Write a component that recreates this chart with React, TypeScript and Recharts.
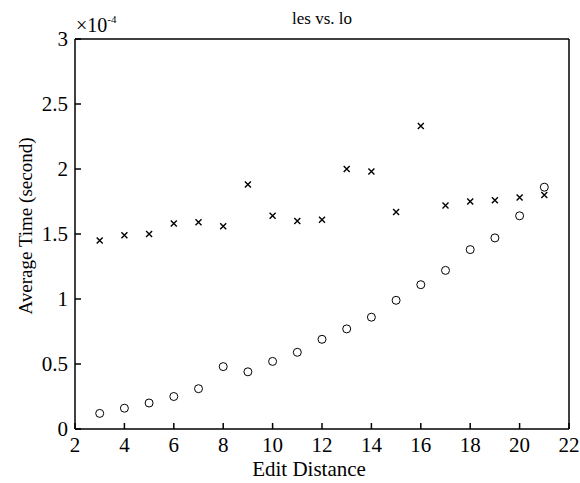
import React from 'react';
import { ScatterChart, Scatter, XAxis, YAxis } from 'recharts';

const distances = [3, 4, 5, 6, 7, 8, 9, 10, 11, 12, 13, 14, 15, 16, 17, 18, 19, 20, 21];
const lesTimes = [1.45, 1.49, 1.5, 1.58, 1.59, 1.56, 1.88, 1.64, 1.6, 1.61, 2.0, 1.98, 1.67, 2.33, 1.72, 1.75, 1.76, 1.78, 1.8];
const loTimes = [0.12, 0.16, 0.2, 0.25, 0.31, 0.48, 0.44, 0.52, 0.59, 0.69, 0.77, 0.86, 0.99, 1.11, 1.22, 1.38, 1.47, 1.64, 1.86];
const xTicks = [2, 4, 6, 8, 10, 12, 14, 16, 18, 20, 22];
const yTicks = [0, 0.5, 1, 1.5, 2, 2.5, 3];

const lesData = distances.map((d, i) => ({ x: d, y: lesTimes[i] }));
const loData = distances.map((d, i) => ({ x: d, y: loTimes[i] }));

const FONT = "'Liberation Serif', 'Times New Roman', Times, serif";
const TL = 6;
const txt = (size: number) => ({ fontFamily: FONT, fontSize: size, fill: '#000' });

const BottomTick = (p: any) => (
  <g>
    <line x1={p.x} x2={p.x} y1={p.y} y2={p.y - TL} stroke="#000" strokeWidth={1.5} />
    <text x={p.x} y={p.y + 23} textAnchor="middle" style={txt(21)}>
      {p.payload.value}
    </text>
  </g>
);
const TopTick = (p: any) => (
  <line x1={p.x} x2={p.x} y1={p.y} y2={p.y + TL} stroke="#000" strokeWidth={1.5} />
);
const LeftTick = (p: any) => (
  <g>
    <line x1={p.x} x2={p.x + TL} y1={p.y} y2={p.y} stroke="#000" strokeWidth={1.5} />
    <text x={p.x - 7} y={p.y + 7} textAnchor="end" style={txt(21)}>
      {p.payload.value}
    </text>
  </g>
);
const RightTick = (p: any) => (
  <line x1={p.x} x2={p.x - TL} y1={p.y} y2={p.y} stroke="#000" strokeWidth={1.5} />
);

const Cross = (p: any) => (
  <path
    d={`M${p.cx - 3},${p.cy - 3}L${p.cx + 3},${p.cy + 3}M${p.cx - 3},${p.cy + 3}L${p.cx + 3},${p.cy - 3}`}
    stroke="#000"
    strokeWidth={1.4}
    fill="none"
  />
);
const Ring = (p: any) => <circle cx={p.cx} cy={p.cy} r={4} stroke="#000" strokeWidth={1} fill="none" />;

const axisLine = { stroke: '#000', strokeWidth: 1.5 };

export default function App() {
  return (
    <div style={{ position: 'absolute', left: 0, top: 0, background: '#fff' }}>
      <ScatterChart width={580} height={483} margin={{ top: 30, right: 0, bottom: 0, left: 0 }}>
        <XAxis
          xAxisId={0}
          type="number"
          dataKey="x"
          domain={[2, 22]}
          ticks={xTicks}
          height={54}
          tickSize={0}
          tickMargin={0}
          tickLine={false}
          axisLine={axisLine}
          tick={BottomTick}
          interval={0}
          label={{
            content: () => (
              <text x={309} y={476} textAnchor="middle" style={txt(21)}>
                Edit Distance
              </text>
            ),
          }}
        />
        <XAxis
          xAxisId="top"
          orientation="top"
          type="number"
          dataKey="x"
          domain={[2, 22]}
          ticks={xTicks}
          height={9}
          tickSize={0}
          tickMargin={0}
          tickLine={false}
          axisLine={axisLine}
          tick={TopTick}
          interval={0}
          label={{
            content: () => (
              <g>
                <text x={322} y={24} textAnchor="middle" style={txt(17)}>
                  les vs. lo
                </text>
                <text x={76} y={32} style={txt(20)}>
                  ×10
                  <tspan style={{ fontSize: 11 }} dy={-9}>-4</tspan>
                </text>
              </g>
            ),
          }}
        />
        <YAxis
          yAxisId={0}
          type="number"
          dataKey="y"
          domain={[0, 3]}
          ticks={yTicks}
          width={75}
          tickSize={0}
          tickMargin={0}
          tickLine={false}
          axisLine={axisLine}
          tick={LeftTick}
          interval={0}
          label={{
            content: () => (
              <text
                x={25}
                y={226}
                transform="rotate(-90 25 226)"
                textAnchor="middle"
                dominantBaseline="central"
                style={txt(19)}
              >
                Average Time (second)
              </text>
            ),
          }}
        />
        <YAxis
          yAxisId="right"
          orientation="right"
          type="number"
          dataKey="y"
          domain={[0, 3]}
          ticks={yTicks}
          width={11}
          tickSize={0}
          tickMargin={0}
          tickLine={false}
          axisLine={axisLine}
          tick={RightTick}
          interval={0}
        />
        <Scatter name="les" data={lesData} shape={Cross} isAnimationActive={false} />
        <Scatter name="lo" data={loData} shape={Ring} isAnimationActive={false} />
      </ScatterChart>
    </div>
  );
}
